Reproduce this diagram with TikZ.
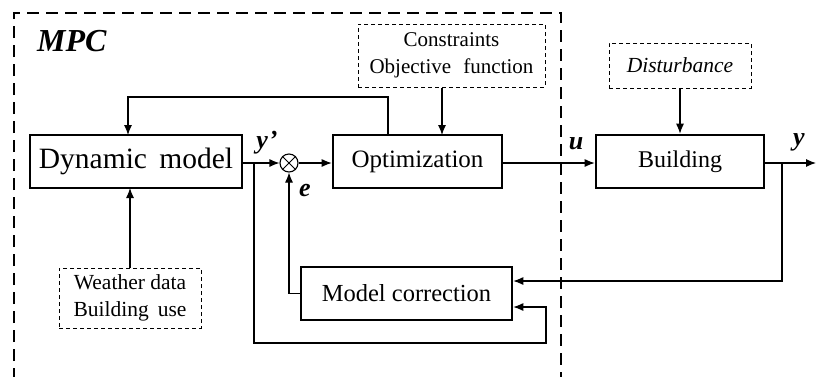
\documentclass[tikz,border=0pt]{standalone}
\usepackage{fontspec}
\setmainfont{Liberation Serif}
\usetikzlibrary{arrows.meta}
\begin{document}
\begin{tikzpicture}[x=1pt,y=-1pt,
  blk/.style={draw,line width=2.6pt,inner sep=0pt},
  dbox/.style={draw,line width=1pt,dash pattern=on 4pt off 3pt,inner sep=0pt},
  conn/.style={line width=1.1pt,-{Latex[length=10pt,width=8pt]}},
  wire/.style={line width=1.1pt},
  lbl/.style={font=\fontsize{26}{28}\selectfont\bfseries\itshape,inner sep=0pt}]
\useasboundingbox (0,0) rectangle (816,376);
% MPC dashed region
\draw[line width=2.6pt,dash pattern=on 12pt off 7pt] (14,380) -- (14,13) -- (561,13) -- (561,380);
\node[lbl,font=\fontsize{32}{34}\selectfont\bfseries\itshape,anchor=north west] (mpc) at (37,30) {MPC};
% blocks
\node[blk,minimum width=212pt,minimum height=53pt] (dyn) at (136,161.5) {\fontsize{29.5}{31}\selectfont Dynamic\, model};
\node[blk,minimum width=169pt,minimum height=53pt] (opt) at (417.5,161.5) {\fontsize{25}{27}\selectfont Optimization};
\node[blk,minimum width=168pt,minimum height=53pt] (bld) at (680,161.5) {\fontsize{24}{26}\selectfont Building};
\node[blk,minimum width=211pt,minimum height=53pt] (mc) at (406.5,293.5) {\fontsize{24.5}{26}\selectfont Model correction};
% dashed input boxes
\node[dbox,minimum width=187pt,minimum height=63pt,align=center,font=\fontsize{21}{27}\selectfont] (con) at (451.5,55.5) {Constraints\\Objective\,\, function};
\node[dbox,minimum width=142pt,minimum height=45pt,font=\fontsize{21.5}{23}\selectfont\itshape] (dist) at (680,65.5) {Disturbance};
\node[dbox,minimum width=142pt,minimum height=60pt,align=center,font=\fontsize{21.5}{27}\selectfont] (wth) at (130,298) {Weather data\\Building\, use};
% sum junction
\node[draw,circle,line width=1.1pt,minimum size=18pt,inner sep=0pt] (sum) at (289,163) {};
\draw[line width=1pt] (sum.45) -- (sum.225) (sum.135) -- (sum.315);
% coordinates
\coordinate (j1) at (254,163);
\coordinate (j2) at (782,163);
\coordinate (out) at (816,163);
% connectors
\draw[conn] (dyn.east |- j1) -- (sum.west);
\draw[conn] (sum.east) -- (opt.west |- sum);
\draw[conn] (opt.east |- sum) -- (bld.west |- sum);
\draw[conn] (bld.east |- j2) -- (out);
\draw[conn] (388,135) -- (388,97) -- (128,97) -- (128,135);
\draw[conn] (con.south -| 442,0) -- (442,135);
\draw[conn] (dist.south) -- (bld.north);
\draw[conn] (wth.north) -- (130,188);
\draw[conn] (j2) -- (782,281) -- (mc.east |- 0,281);
\draw[conn] (j1) -- (254,343) -- (546,343) -- (546,307) -- (mc.east |- 0,307);
\draw[conn] (mc.west) -- (sum.south |- mc.west) -- (sum.south);
% labels
\node[lbl] (yp) at (267,143) {y\kern1pt'};
\node[lbl] (e) at (305,190) {e};
\node[lbl] (u) at (576,144) {u};
\node[lbl] (y) at (799,142) {y};
\end{tikzpicture}
\end{document}
